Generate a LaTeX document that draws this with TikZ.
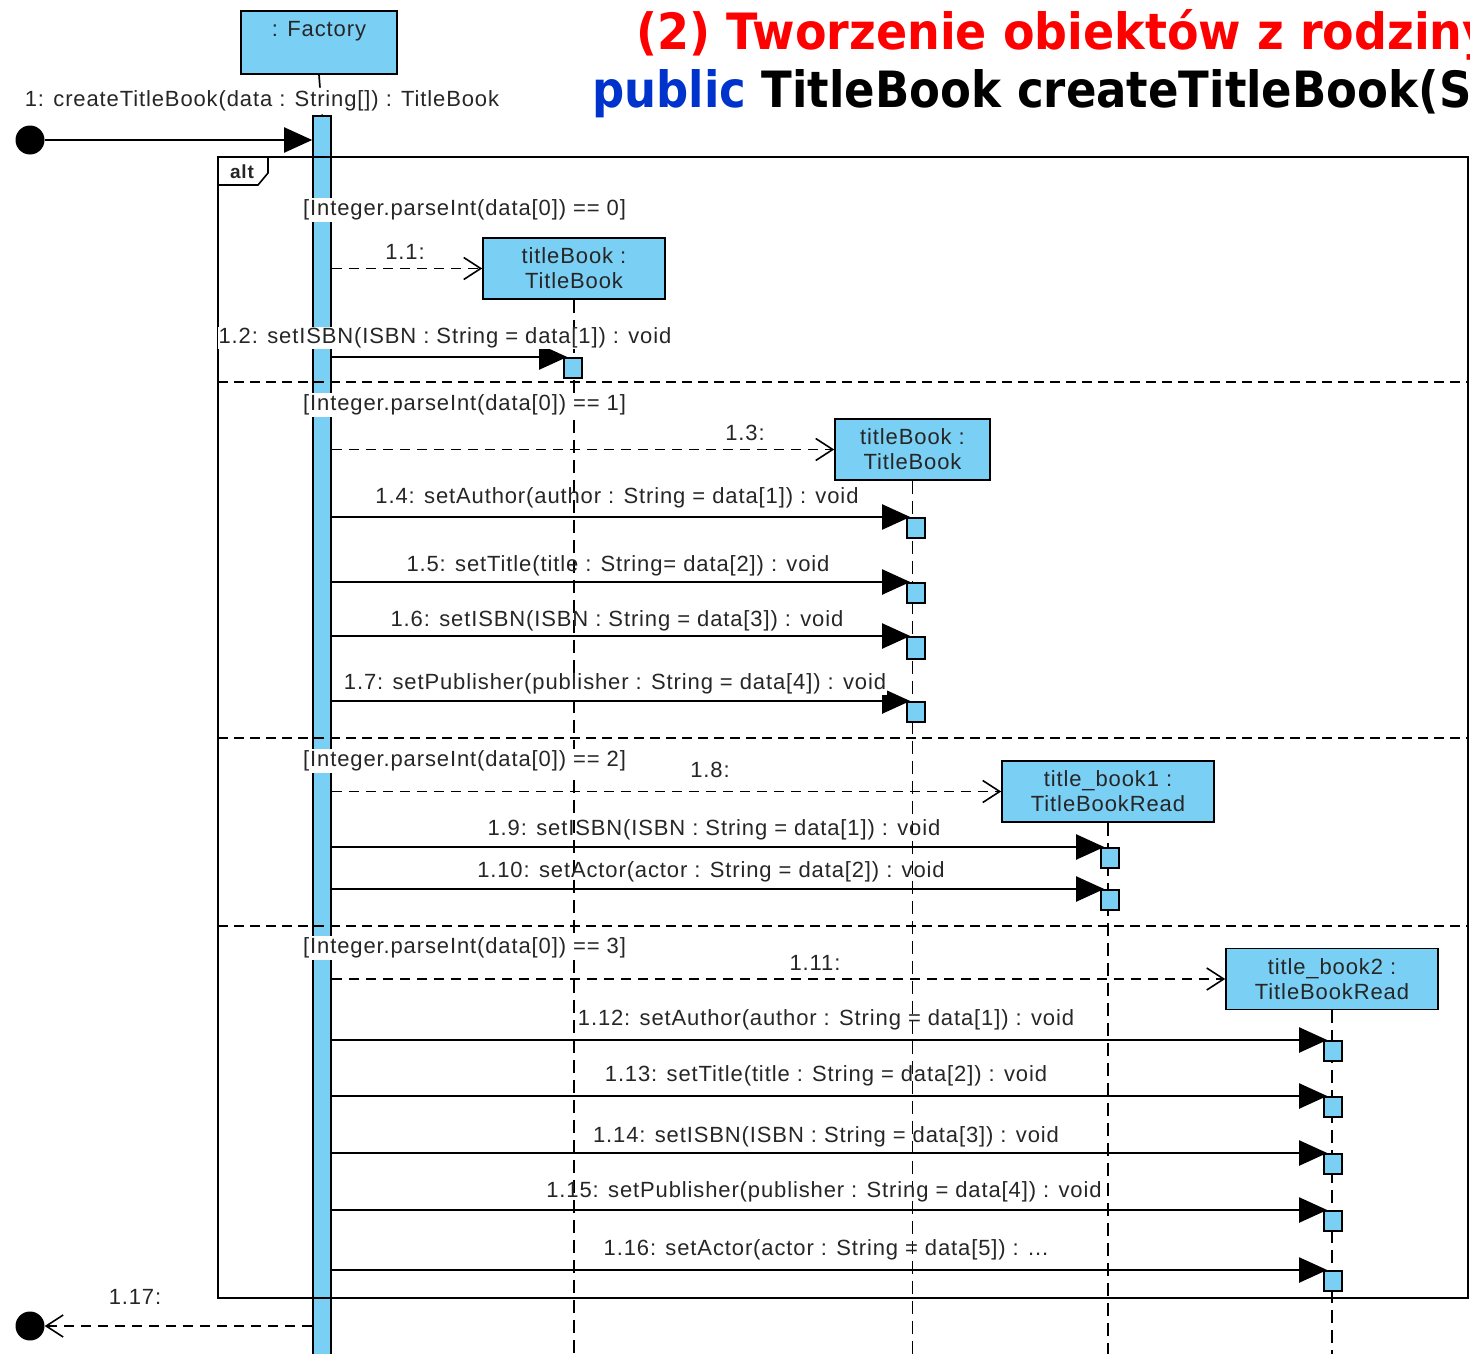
\documentclass[tikz,border=0pt]{standalone}
\usepackage{fontspec}
\usepackage{tikz}
\usetikzlibrary{arrows.meta}
\newfontfamily\umlfont{Liberation Sans}[LetterSpace=4]
\newfontfamily\titlefont{DejaVu Sans}[FakeStretch=0.9]
\newfontfamily\headfont{DejaVu Sans}[FakeStretch=0.92]
\definecolor{vpblue}{RGB}{122,207,245}
\definecolor{titlered}{RGB}{255,0,0}
\definecolor{kwblue}{RGB}{0,51,204}

\begin{document}
\begin{tikzpicture}[x=1pt,y=1pt,yscale=-1,
  umltext/.style={font=\umlfont\fontsize{22}{25}\selectfont, text=black!85},
  obj/.style={draw, line width=1.6pt, fill=vpblue, minimum height=61pt, align=center, inner sep=2pt, umltext},
  act/.style={draw, line width=1.6pt, fill=vpblue, minimum width=18pt, minimum height=20pt, inner sep=0pt, anchor=north},
  lifeline/.style={line width=1.7pt, dash pattern=on 13pt off 7pt},
  call/.style={line width=2pt, shorten >=-4pt, -{Triangle[length=28pt,width=25pt]}},
  create/.style={line width=1.7pt, dash pattern=on 10pt off 7pt, -{Straight Barb[length=17pt,width=22pt,line width=1.6pt]}},
  lbl/.style={umltext, inner sep=1pt},
  guard/.style={umltext, fill=white, inner sep=2pt, anchor=west},
  dot/.style={circle, fill=black, minimum size=29pt, inner sep=0pt},
  sep/.style={line width=1.7pt, dash pattern=on 10pt off 6pt}
]
\useasboundingbox (0,0) rectangle (1470,1354);
\coordinate (bottom) at (0,1358);

% Title
\node[anchor=base west, inner sep=0pt, text=titlered, font=\headfont\bfseries\fontsize{50}{56}\selectfont] (title) at (636,50) {(2) Tworzenie obiektów z rodziny};
\node[anchor=base west, inner sep=0pt, font=\titlefont\bfseries\fontsize{50}{56}\selectfont] (signature) at (592,107) {\textcolor{kwblue}{public} TitleBook createTitleBook(S};

% Factory
\node[obj, minimum width=156pt, minimum height=63pt, anchor=north, label={[umltext, anchor=north, inner sep=11pt]north:{: Factory}}] (factory) at (319,10) {};
\node[act, minimum height=1250pt] (fbar) at (322,115) {};
\draw[lifeline] (factory.south) -- (fbar.north);

% Objects
\node[obj, minimum width=182pt] (tb1) at (574,268.5) {titleBook :\\TitleBook};
\node[obj, minimum width=155pt] (tb2) at (912.5,449.5) {titleBook :\\TitleBook};
\node[obj, minimum width=212pt] (tbr1) at (1108,791.5) {title\_book1 :\\TitleBookRead};
\node[obj, minimum width=212pt] (tbr2) at (1332,979) {title\_book2 :\\TitleBookRead};

% Lifelines
\draw[lifeline] (tb1.south) -- (tb1.south |- bottom);
\draw[lifeline] (tb2.south) -- (tb2.south |- bottom);
\draw[lifeline] (tbr1.south) -- (tbr1.south |- bottom);
\draw[lifeline] (tbr2.south) -- (tbr2.south |- bottom);

% alt frame
\draw[line width=1.7pt] (218,157) rectangle (1468,1298);
\draw[line width=1.6pt] (218,185) -- (258,185) -- (268,173) -- (268,157);
\node[umltext, font=\umlfont\bfseries\fontsize{19}{22}\selectfont] (alt) at (242,172) {alt};
\draw[sep] (218,382) -- (1468,382);
\draw[sep] (218,738) -- (1468,738);
\draw[sep] (218,926) -- (1468,926);

% Activations
\node[act] (a12) at (573,357) {};
\node[act] (a14) at (916,517) {};
\node[act] (a15) at (916,582) {};
\node[act, minimum height=22pt] (a16) at (916,636) {};
\node[act] (a17) at (916,701) {};
\node[act] (a19) at (1110,847) {};
\node[act] (a110) at (1110,889) {};
\node[act] (a112) at (1333,1040) {};
\node[act] (a113) at (1333,1096) {};
\node[act] (a114) at (1333,1153) {};
\node[act] (a115) at (1333,1210) {};
\node[act] (a116) at (1333,1270) {};

% Start and end
\node[dot] (start) at (30,140) {};
\node[dot] (finish) at (30,1326) {};
\draw[call, shorten >=0pt] (start) -- (fbar.west |- start);
\node[lbl, fill=white] (l1) at (262,101) {1: createTitleBook(data : String[]) : TitleBook};
\draw[create] (fbar.west |- finish) -- (finish);
\node[lbl] (l117) at (135,1297) {1.17:};

% Guards
\node[guard] (g0) at (301,210) {[Integer.parseInt(data[0]) == 0]};
\node[guard] (g1) at (301,405) {[Integer.parseInt(data[0]) == 1]};
\node[guard] (g2) at (301,761) {[Integer.parseInt(data[0]) == 2]};
\node[guard] (g3) at (301,948) {[Integer.parseInt(data[0]) == 3]};

% Creation messages
\draw[create] (fbar.east |- tb1.west) -- (tb1.west);
\node[lbl] (l11) at (405,252) {1.1:};
\draw[create] (fbar.east |- tb2.west) -- (tb2.west);
\node[lbl] (l13) at (745,433) {1.3:};
\draw[create] (fbar.east |- tbr1.west) -- (tbr1.west);
\node[lbl] (l18) at (710,770) {1.8:};
\draw[create] (fbar.east |- tbr2.west) -- (tbr2.west);
\node[lbl] (l111) at (815,963) {1.11:};

% Calls
\draw[call] (fbar.east |- a12.north west) -- (a12.north west);
\node[lbl, fill=white] (l12) at (445,338) {1.2: setISBN(ISBN : String = data[1]) : void};
\draw[call] (fbar.east |- a14.north west) -- (a14.north west);
\node[lbl] (l14) at (617,498) {1.4: setAuthor(author : String = data[1]) : void};
\draw[call] (fbar.east |- a15.north west) -- (a15.north west);
\node[lbl] (l15) at (618,566) {1.5: setTitle(title : String= data[2]) : void};
\draw[call] (fbar.east |- a16.north west) -- (a16.north west);
\node[lbl] (l16) at (617,621) {1.6: setISBN(ISBN : String = data[3]) : void};
\draw[call] (fbar.east |- a17.north west) -- (a17.north west);
\node[lbl, fill=white] (l17) at (615,684) {1.7: setPublisher(publisher : String = data[4]) : void};
\draw[call] (fbar.east |- a19.north west) -- (a19.north west);
\node[lbl] (l19) at (714,830) {1.9: setISBN(ISBN : String = data[1]) : void};
\draw[call] (fbar.east |- a110.north west) -- (a110.north west);
\node[lbl] (l110) at (711,872) {1.10: setActor(actor : String = data[2]) : void};
\draw[call] (fbar.east |- a112.north west) -- (a112.north west);
\node[lbl] (l112) at (826,1020) {1.12: setAuthor(author : String = data[1]) : void};
\draw[call] (fbar.east |- a113.north west) -- (a113.north west);
\node[lbl] (l113) at (826,1076) {1.13: setTitle(title : String = data[2]) : void};
\draw[call] (fbar.east |- a114.north west) -- (a114.north west);
\node[lbl] (l114) at (826,1137) {1.14: setISBN(ISBN : String = data[3]) : void};
\draw[call] (fbar.east |- a115.north west) -- (a115.north west);
\node[lbl] (l115) at (824,1192) {1.15: setPublisher(publisher : String = data[4]) : void};
\draw[call] (fbar.east |- a116.north west) -- (a116.north west);
\node[lbl] (l116) at (826,1250) {1.16: setActor(actor : String = data[5]) : ...};

\end{tikzpicture}
\end{document}
